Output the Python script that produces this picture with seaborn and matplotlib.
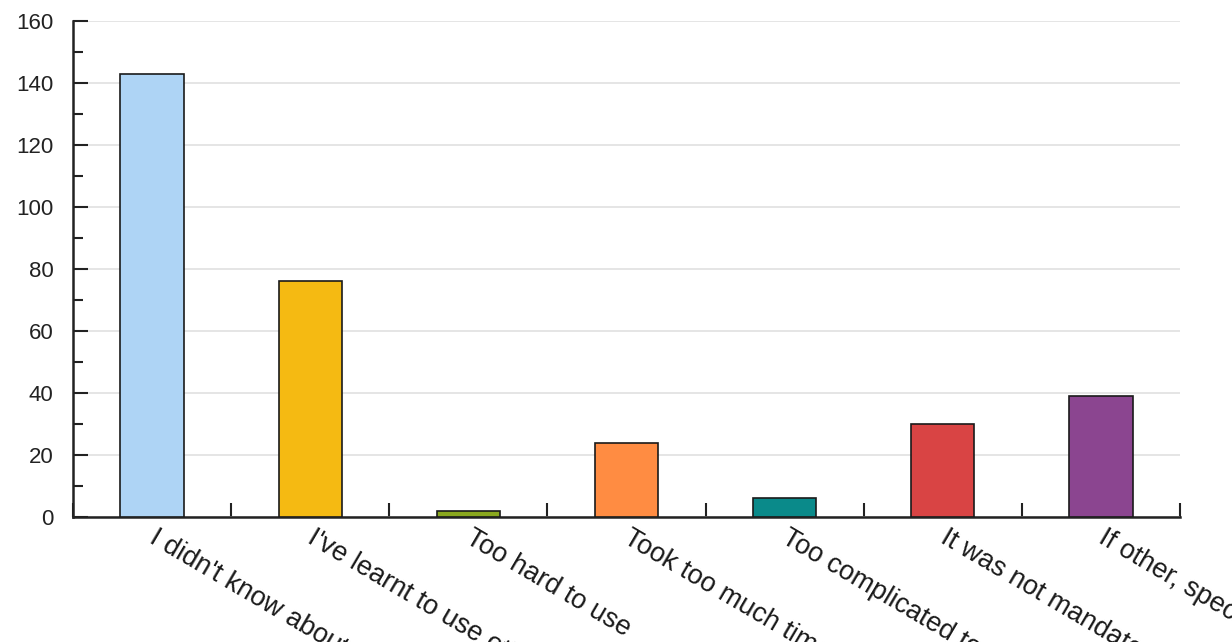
import matplotlib
matplotlib.use("Agg")
import matplotlib.pyplot as plt
from matplotlib.ticker import MultipleLocator, NullFormatter
from matplotlib.transforms import ScaledTranslation
import seaborn as sns
import pandas as pd

categories = [
    "I didn't know about it",
    "I've learnt to use other tools",
    "Too hard to use",
    "Took too much time",
    "Too complicated to set up",
    "It was not mandatory",
    "If other, specify",
]
values = [143, 76, 2, 24, 6, 30, 39]
colors = ["#AED4F5", "#F5BA12", "#8AA81E", "#FF8C42", "#0A8A8A", "#D94444", "#8B4590"]
yticks = [0, 20, 40, 60, 80, 100, 120, 140, 160]

sns.set_theme(style="white")
plt.rcParams["font.family"] = ["Liberation Sans", "DejaVu Sans"]

df = pd.DataFrame({"category": categories, "value": values})

fig = plt.figure(figsize=(12.32, 6.42), dpi=100)
ax = fig.add_axes([73 / 1232, 1 - 517 / 642, (1180 - 73) / 1232, (517 - 21) / 642])

sns.barplot(data=df, x="category", y="value", hue="category", palette=colors,
            saturation=1, width=0.4, edgecolor="#1a1a1a", linewidth=1.2,
            legend=False, ax=ax, zorder=3)

ax.set_xlim(-0.5, len(categories) - 0.5)
ax.set_ylim(0, 160)
ax.set_yticks(yticks)
ax.set_yticklabels([str(t) for t in yticks], fontsize=16, color="#222222")
ax.yaxis.set_minor_locator(MultipleLocator(10))
ax.tick_params(axis="y", which="major", direction="in", length=11, width=1.5,
               color="#222222", pad=14, left=True)
ax.tick_params(axis="y", which="minor", direction="in", length=7, width=1.5,
               color="#222222", left=True)

ax.grid(axis="y", color="#E0E0E0", linewidth=1.2, zorder=0)
ax.set_axisbelow(True)

ax.set_xticks(range(len(categories)))
ax.xaxis.set_major_formatter(NullFormatter())
label_tr = ax.get_xaxis_transform() + ScaledTranslation(6 / 100, -8 / 100, fig.dpi_scale_trans)
for i, lab in enumerate(categories):
    ax.text(i, 0, lab, transform=label_tr, rotation=-30.5, ha="left", va="top",
            rotation_mode="anchor", fontsize=19.5, color="#1a1a1a", clip_on=False)
ax.xaxis.set_minor_locator(MultipleLocator(1, offset=0.5))
ax.tick_params(axis="x", which="major", length=0, pad=8)
ax.tick_params(axis="x", which="minor", direction="in", length=10, width=1.5,
               color="#222222", bottom=True)

ax.set_xlabel("")
ax.set_ylabel("")
for s in ["top", "right"]:
    ax.spines[s].set_visible(False)
for s in ["left", "bottom"]:
    ax.spines[s].set_color("#222222")
    ax.spines[s].set_linewidth(1.8)

fig.savefig("out.png", dpi=100)
